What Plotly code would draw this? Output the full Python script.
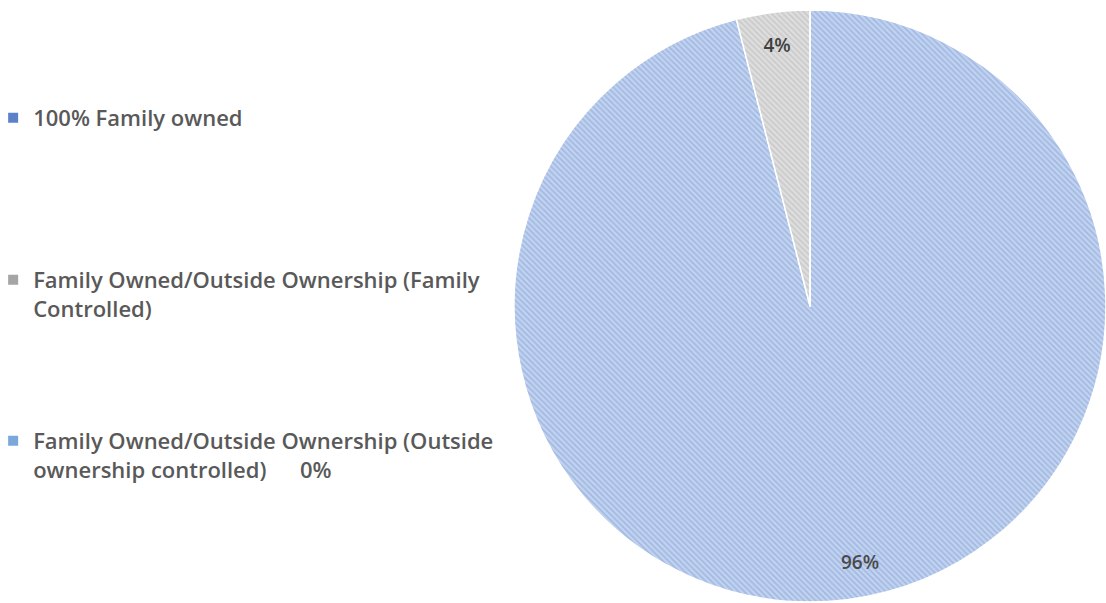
import plotly.graph_objects as go

labels = [
    "100% Family owned",
    "Family Owned/Outside Ownership (Family<br>Controlled)",
    "Family Owned/Outside Ownership (Outside<br>ownership controlled)",
]
values = [96, 4, 0]

slice_bg = ["#c3d3ef", "#dedede", "#c7d9ee"]
slice_fg = ["#7f9fd8", "#b5b5b5", "#8db2de"]
legend_colors = ["#5b82c8", "#a5a5a5", "#7ba8da"]

# in-slice label for the small slice; the others are placed as annotations
texts = ["", f"{values[1]}%", ""]

fig = go.Figure()
fig.add_trace(go.Pie(
    labels=[l.replace("<br>", " ") for l in labels],
    values=values,
    text=texts,
    textinfo="text",
    textposition="inside",
    insidetextorientation="horizontal",
    sort=False,
    direction="clockwise",
    rotation=0,
    marker=dict(
        colors=slice_bg,
        line=dict(color="#ffffff", width=1.5),
        pattern=dict(shape="\\", fillmode="overlay", fgcolor=slice_fg,
                     bgcolor=slice_bg, size=4, solidity=0.45),
    ),
    insidetextfont=dict(family="Open Sans", size=19, color="#404040", weight=600),
    domain=dict(x=[0.4648, 1.0], y=[0.0, 0.985]),
    hoverinfo="label+percent",
    showlegend=False,
))

# legend entries, one legend box per category (placed like the original)
legend_names = ["legend", "legend2", "legend3"]
legend_tops = [97, 259, 420]
leg_font = dict(family="Open Sans", size=22, color="#595959", weight=600)
for i, lab in enumerate(labels):
    fig.add_trace(go.Scatter(
        x=[None], y=[None], mode="markers", name=lab,
        marker=dict(symbol="square", size=10, color=legend_colors[i]),
        legend=legend_names[i], showlegend=True, hoverinfo="skip",
    ))

lab_font = dict(family="Open Sans", size=19, color="#4a4a4a", weight=600)
fig.add_annotation(
    x=860, y=562, xref="x", yref="y", text=f"{values[0]}%", showarrow=False,
    xanchor="center", yanchor="middle", font=lab_font,
)
fig.add_annotation(
    x=298, y=469, xref="x", yref="y", text=f"{values[2]}%", showarrow=False,
    xanchor="left", yanchor="middle", font=leg_font,
)

fig.update_xaxes(visible=False, range=[0, 1106])
fig.update_yaxes(visible=False, range=[603, 0])

legend_common = dict(
    x=-0.0062, xanchor="left", yanchor="top", valign="top",
    font=leg_font, bgcolor="rgba(0,0,0,0)",
)
fig.update_layout(
    width=1106, height=603,
    margin=dict(l=0, r=0, t=0, b=0, autoexpand=False),
    paper_bgcolor="#ffffff",
    plot_bgcolor="rgba(0,0,0,0)",
    xaxis=dict(domain=[0, 1]), yaxis=dict(domain=[0, 1]),
    legend=dict(y=1 - legend_tops[0] / 603, **legend_common),
    legend2=dict(y=1 - legend_tops[1] / 603, **legend_common),
    legend3=dict(y=1 - legend_tops[2] / 603, **legend_common),
)

fig.write_html("out.html")
